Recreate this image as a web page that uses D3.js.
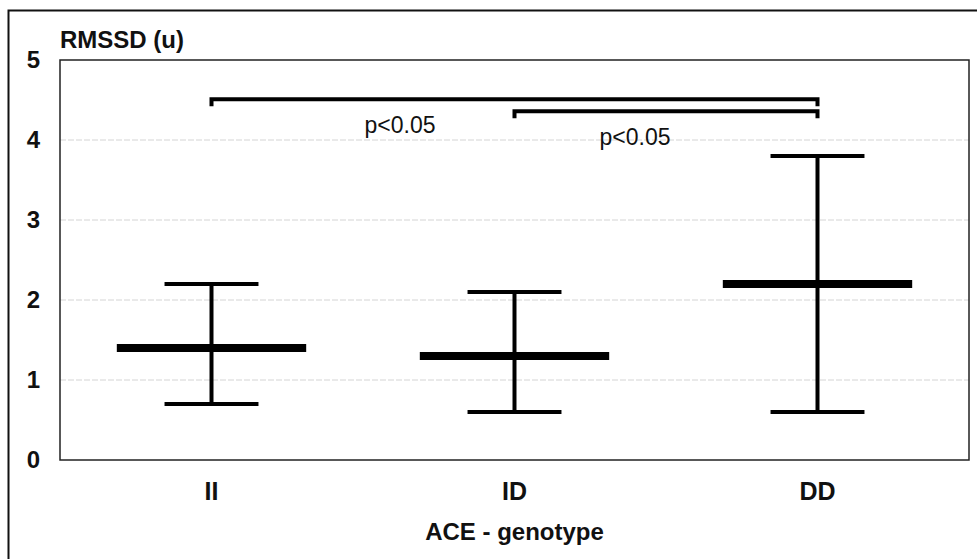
<!DOCTYPE html>
<html>
<head>
<meta charset="utf-8">
<script src="https://cdn.jsdelivr.net/npm/d3@7"></script>
<style>
  html, body { margin: 0; padding: 0; background: #fff; }
  svg { display: block; font-family: "Liberation Sans", Arial, sans-serif; }
</style>
</head>
<body>
<div id="chart"></div>
<script>
// Data
const genotypes = ["II", "ID", "DD"];
const means = [1.4, 1.3, 2.2];
const upper = [2.2, 2.1, 3.8];
const lower = [0.7, 0.6, 0.6];
const yTicks = [0, 1, 2, 3, 4, 5];
const brackets = [
  { from: "II", to: "DD", level: 4.51, label: "p<0.05" },
  { from: "ID", to: "DD", level: 4.36, label: "p<0.05" }
];

const width = 977, height = 559;
const margin = { top: 60, right: 8, bottom: 99, left: 60 };

const svg = d3.select('#chart')
  .append('svg')
  .attr('width', width)
  .attr('height', height);

// outer frame (only top and left visible)
svg.append('path')
  .attr('d', `M8.5,${height} V10.5 H${width}`)
  .attr('fill', 'none')
  .attr('stroke', '#111')
  .attr('stroke-width', 2);

const x = d3.scaleBand()
  .domain(genotypes)
  .range([margin.left, width - margin.right]);

const y = d3.scaleLinear()
  .domain([0, 5])
  .range([height - margin.bottom, margin.top]);

// grid lines
svg.append('g')
  .selectAll('line')
  .data(yTicks.filter(d => d > 0 && d < 5))
  .enter()
  .append('line')
  .attr('x1', margin.left)
  .attr('x2', width - margin.right)
  .attr('y1', d => y(d))
  .attr('y2', d => y(d))
  .attr('stroke', '#d4d4d4')
  .attr('stroke-width', 1)
  .attr('stroke-dasharray', '6,2');

// plot box
svg.append('rect')
  .attr('x', margin.left)
  .attr('y', margin.top)
  .attr('width', width - margin.left - margin.right)
  .attr('height', height - margin.top - margin.bottom)
  .attr('fill', 'none')
  .attr('stroke', '#222')
  .attr('stroke-width', 1.5);

// y axis labels
const yAxis = svg.append('g')
  .attr('transform', `translate(${margin.left},0)`)
  .call(d3.axisLeft(y).tickValues(yTicks).tickFormat(d3.format('d')).tickSize(0).tickPadding(20));
yAxis.select('.domain').remove();
yAxis.selectAll('text')
  .attr('font-size', 24)
  .attr('font-weight', 'bold')
  .attr('fill', '#111')
  .attr('font-family', '"Liberation Sans", Arial, sans-serif');

// x axis labels
const xAxis = svg.append('g')
  .attr('transform', `translate(0,${height - margin.bottom})`)
  .call(d3.axisBottom(x).tickSize(0).tickPadding(22));
xAxis.select('.domain').remove();
xAxis.selectAll('text')
  .attr('font-size', 25)
  .attr('font-weight', 'bold')
  .attr('fill', '#111')
  .attr('font-family', '"Liberation Sans", Arial, sans-serif');

// titles
svg.append('text')
  .attr('x', margin.left)
  .attr('y', 48)
  .attr('font-size', 24)
  .attr('font-weight', 'bold')
  .attr('fill', '#111')
  .text('RMSSD (u)');

svg.append('text')
  .attr('x', x('ID') + x.bandwidth() / 2)
  .attr('y', 540)
  .attr('text-anchor', 'middle')
  .attr('font-size', 24)
  .attr('font-weight', 'bold')
  .attr('fill', '#111')
  .text('ACE - genotype');

// error bars
const cx = d => x(d) + x.bandwidth() / 2;
const capW = x.bandwidth() * 0.31;
const meanW = x.bandwidth() * 0.625;

const groups = svg.append('g')
  .selectAll('g')
  .data(genotypes.map((g, i) => ({ g, mean: means[i], hi: upper[i], lo: lower[i] })))
  .enter()
  .append('g');

groups.append('line')
  .attr('x1', d => cx(d.g)).attr('x2', d => cx(d.g))
  .attr('y1', d => y(d.hi)).attr('y2', d => y(d.lo))
  .attr('stroke', '#000').attr('stroke-width', 4);

groups.selectAll('.cap')
  .data(d => [{ g: d.g, v: d.hi }, { g: d.g, v: d.lo }])
  .enter()
  .append('line')
  .attr('class', 'cap')
  .attr('x1', d => cx(d.g) - capW / 2).attr('x2', d => cx(d.g) + capW / 2)
  .attr('y1', d => y(d.v)).attr('y2', d => y(d.v))
  .attr('stroke', '#000').attr('stroke-width', 4);

groups.append('line')
  .attr('x1', d => cx(d.g) - meanW / 2).attr('x2', d => cx(d.g) + meanW / 2)
  .attr('y1', d => y(d.mean)).attr('y2', d => y(d.mean))
  .attr('stroke', '#000').attr('stroke-width', 8);

// significance brackets
const br = svg.append('g')
  .selectAll('g')
  .data(brackets)
  .enter()
  .append('g');

br.append('path')
  .attr('d', d => `M${cx(d.from)},${y(d.level) + 7} V${y(d.level)} H${cx(d.to)} V${y(d.level) + 7}`)
  .attr('fill', 'none')
  .attr('stroke', '#000')
  .attr('stroke-width', 4);

br.append('text')
  .attr('x', (d, i) => i === 0 ? 400 : 635)
  .attr('y', d => y(d.level) + 34)
  .attr('text-anchor', 'middle')
  .attr('font-size', 23)
  .attr('fill', '#111')
  .text(d => d.label);
</script>
</body>
</html>
